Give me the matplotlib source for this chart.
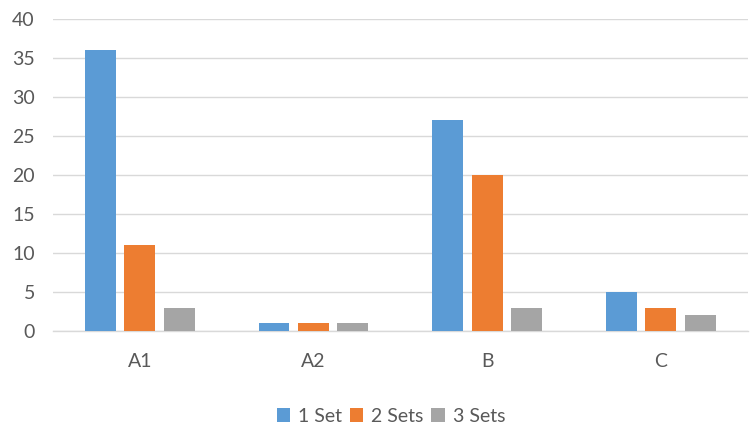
import matplotlib
matplotlib.use("Agg")
import matplotlib.pyplot as plt
import numpy as np

categories = ["A1", "A2", "B", "C"]
series_names = ["1 Set", "2 Sets", "3 Sets"]
one_set = [36, 1, 27, 5]
two_sets = [11, 1, 20, 3]
three_sets = [3, 1, 3, 2]
y_ticks = [0, 5, 10, 15, 20, 25, 30, 35, 40]

colors = ["#5B9BD5", "#ED7D31", "#A5A5A5"]
text_color = "#595959"

plt.rcParams["font.family"] = ["Lato", "DejaVu Sans"]

fig = plt.figure(figsize=(7.56, 4.28), dpi=100)
ax = fig.add_axes([0.0700, 0.2266, 0.9190, 0.729])

x = np.arange(len(categories))
width = 0.178
step = 0.227
for i, (vals, name, c) in enumerate(zip([one_set, two_sets, three_sets], series_names, colors)):
    ax.bar(x + (i - 1) * step, vals, width=width, color=c, label=name, zorder=3)

ax.set_xlim(-0.5, len(categories) - 0.5)
ax.set_ylim(0, 40)
ax.set_yticks(y_ticks)
ax.set_xticks(x)
ax.set_xticklabels(categories)
ax.grid(axis="y", color="#D9D9D9", linewidth=1.0, zorder=0)
for s in ["top", "right", "left"]:
    ax.spines[s].set_visible(False)
ax.spines["bottom"].set_color("#D9D9D9")
ax.spines["bottom"].set_linewidth(1.0)
ax.tick_params(axis="both", length=0, labelsize=14, colors=text_color)
ax.tick_params(axis="x", pad=16)
ax.tick_params(axis="y", pad=13)

leg = fig.legend(loc="center", bbox_to_anchor=(0.517, 0.028), ncol=3, frameon=False,
                 fontsize=14, handlelength=0.7, handleheight=0.7, handletextpad=0.4,
                 columnspacing=0.4)
for t in leg.get_texts():
    t.set_color(text_color)

fig.savefig("out.png", dpi=100)
